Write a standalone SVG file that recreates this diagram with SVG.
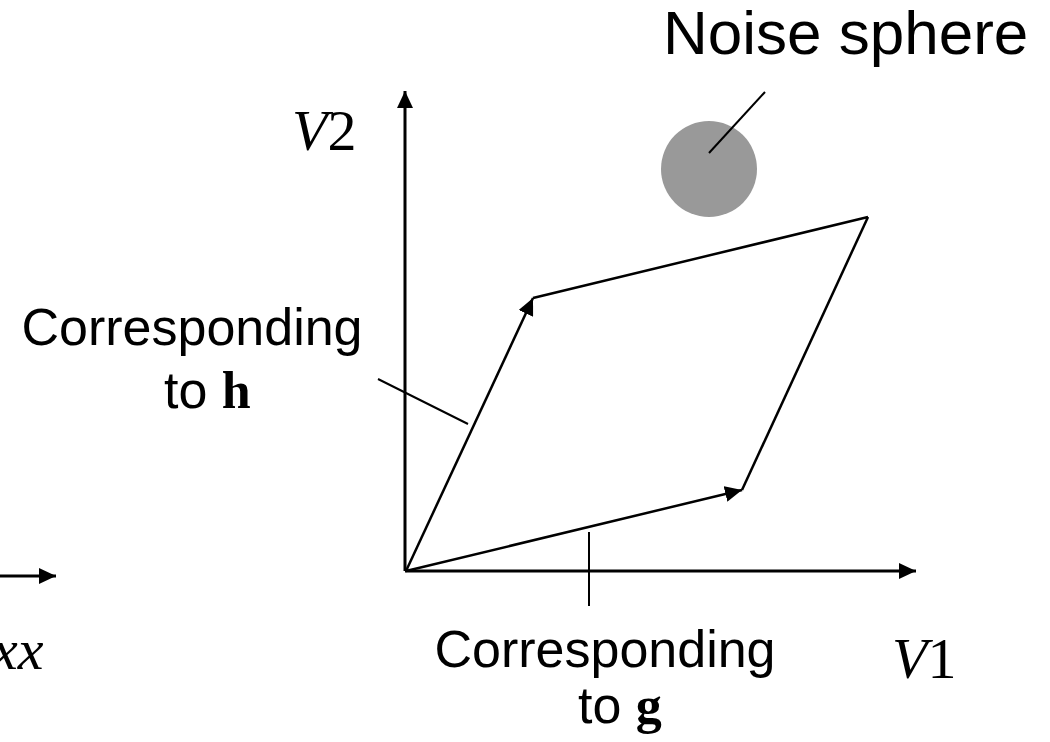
<svg xmlns="http://www.w3.org/2000/svg" width="1050" height="742" viewBox="0 0 1050 742">
<style>
.sans{font-family:"Liberation Sans",Arial,sans-serif;fill:#000}
.ser{font-family:"Liberation Serif","Times New Roman",serif;fill:#000}
.it{font-style:italic}
.bd{font-weight:bold}
.ax{stroke:#000;stroke-width:3;fill:none}
.ed{stroke:#000;stroke-width:2.5;fill:none}
.ld{stroke:#000;stroke-width:2;fill:none}
</style>
<defs>
<marker id="ah" markerUnits="userSpaceOnUse" markerWidth="18" markerHeight="16" refX="17" refY="8" orient="auto">
<path d="M0,0 L17,8 L0,16 z" fill="#000"/>
</marker>
</defs>
<rect width="1050" height="742" fill="#fff"/>
<g id="noise">
<circle cx="709" cy="169" r="48" fill="#999999"/>
<text class="sans" x="663" y="54" font-size="62">Noise sphere</text>
</g>
<g id="label-h">
<text class="sans" x="192" y="345" font-size="52" text-anchor="middle">Corresponding</text>
<text class="sans" x="164" y="408" font-size="52">to <tspan class="ser bd">h</tspan></text>
</g>
<g id="label-g">
<text class="sans" x="605" y="667" font-size="52" text-anchor="middle">Corresponding</text>
<text class="sans" x="578" y="723" font-size="52">to <tspan class="ser bd">g</tspan></text>
</g>
<g id="label-v2"><text class="ser it" x="292" y="150" font-size="58">V<tspan font-style="normal">2</tspan></text></g>
<g id="label-v1"><text class="ser it" x="892" y="678" font-size="58">V<tspan font-style="normal">1</tspan></text></g>
<g id="label-xx"><text class="ser it" x="-8" y="669" font-size="58">xx</text></g>
<g id="connectors">
<line class="ax" x1="405" y1="571" x2="405" y2="91" marker-end="url(#ah)"/>
<line class="ax" x1="405" y1="571" x2="916" y2="571" marker-end="url(#ah)"/>
<line class="ax" x1="0" y1="576" x2="56" y2="576" marker-end="url(#ah)"/>
<line class="ed" x1="406" y1="571" x2="533" y2="298" marker-end="url(#ah)"/>
<line class="ed" x1="533" y1="298" x2="868" y2="217"/>
<line class="ed" x1="868" y1="217" x2="742" y2="490"/>
<line class="ed" x1="406" y1="571" x2="742" y2="490" marker-end="url(#ah)"/>
<line class="ld" x1="378" y1="379" x2="468" y2="424"/>
<line class="ld" x1="589" y1="532" x2="589" y2="606"/>
<line class="ld" x1="709" y1="153" x2="765" y2="92"/>
</g>
</svg>
